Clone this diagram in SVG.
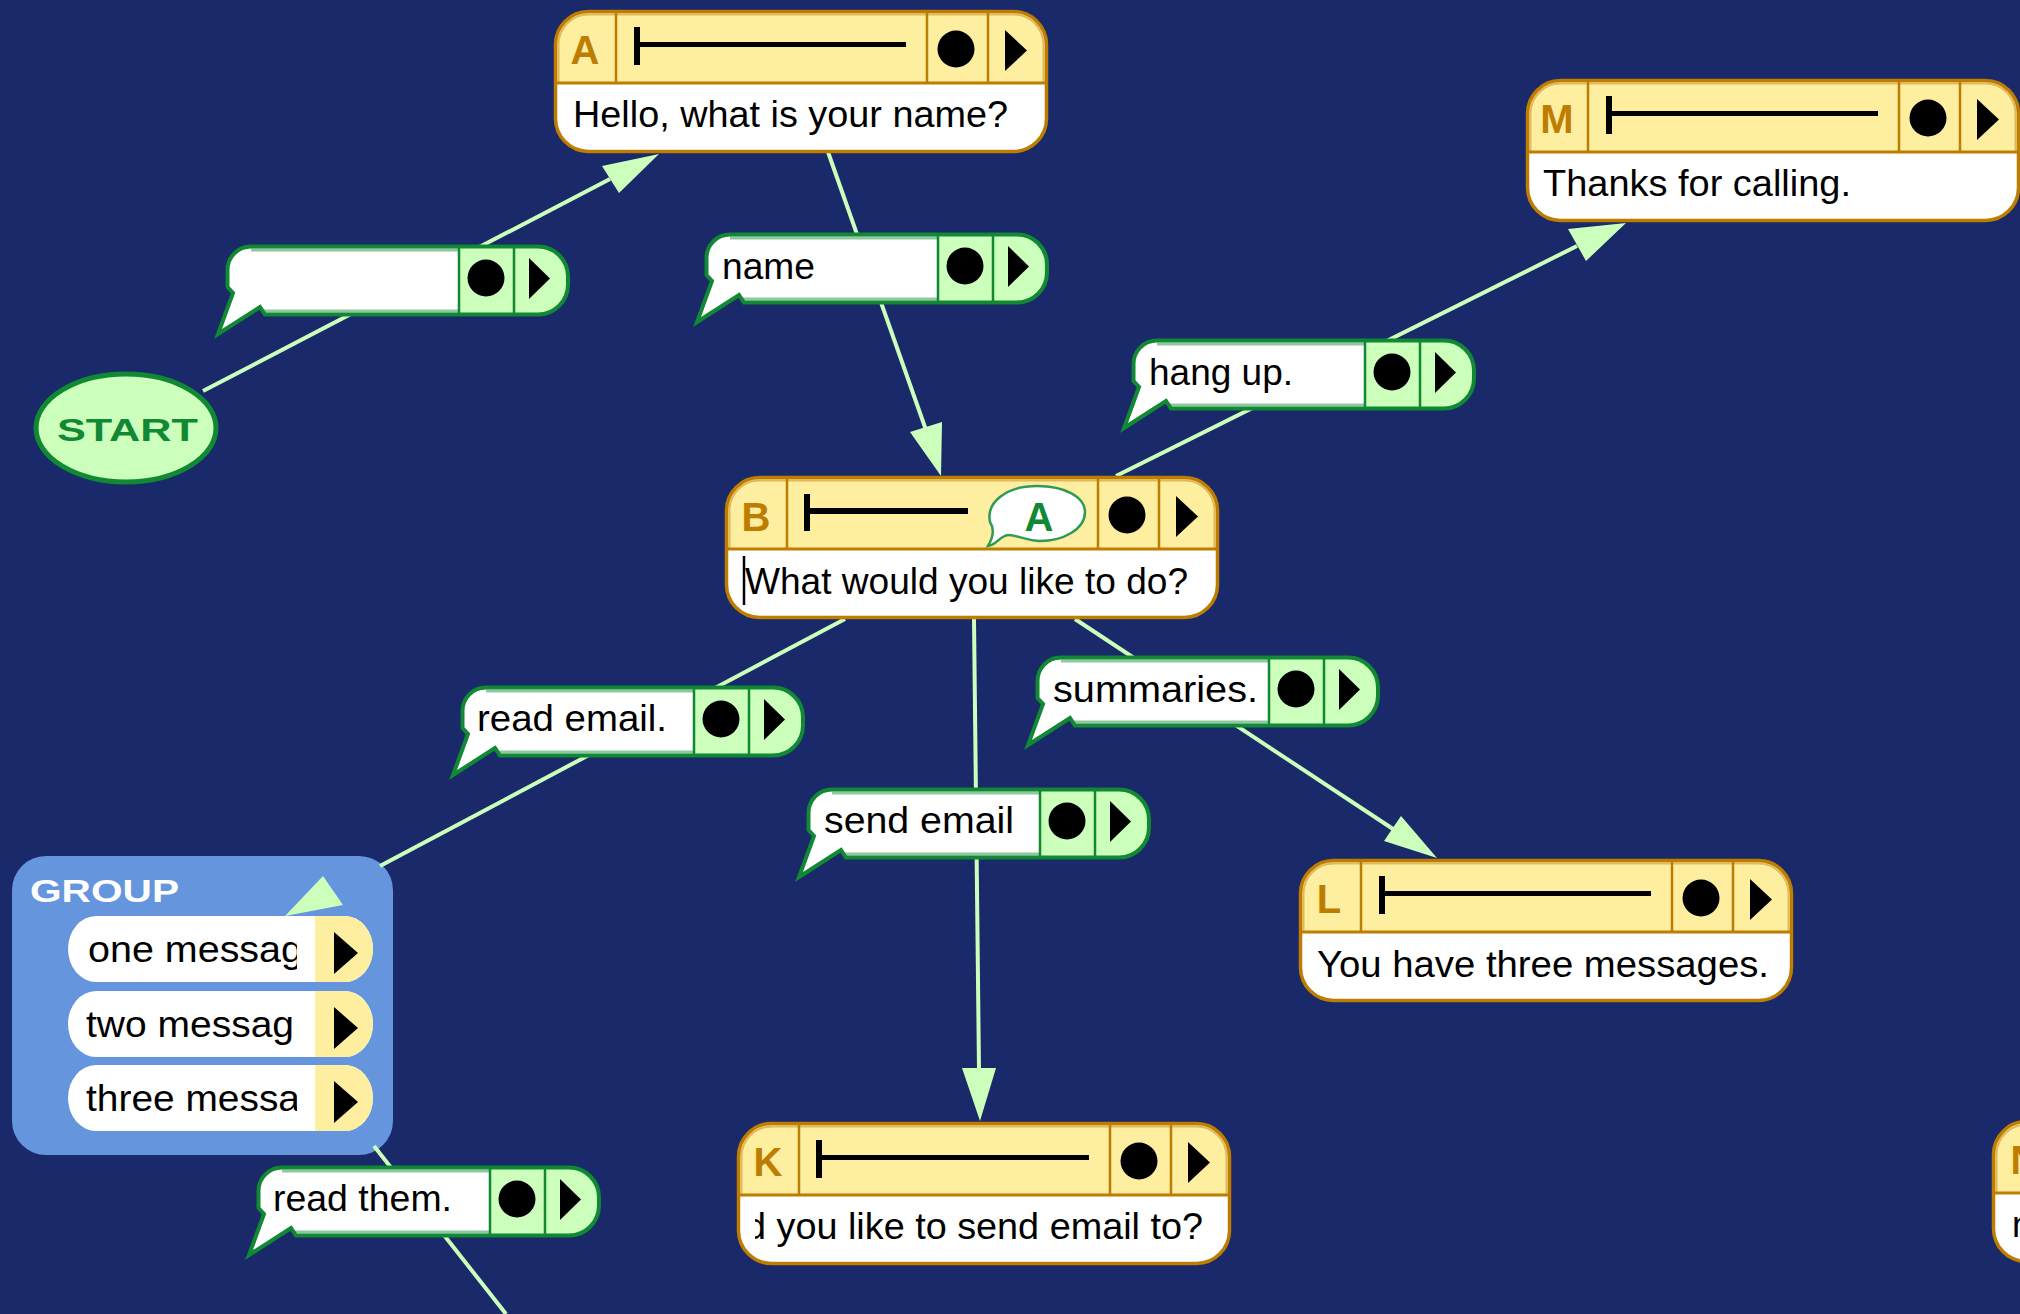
<svg xmlns="http://www.w3.org/2000/svg" xmlns:xlink="http://www.w3.org/1999/xlink" width="2020" height="1314" viewBox="0 0 2020 1314">
<style>
text{font-family:"Liberation Sans",Arial,sans-serif;fill:#000}
.t{font-size:36px}
.l{font-size:40px;font-weight:700;fill:#bd7d00;text-anchor:middle}
.e{stroke:#ccffbb;stroke-width:4;fill:none}
.h{fill:#ccffbb;stroke:none}
.k{fill:#000;stroke:none}
.br{stroke:#bd7d00;fill:none}
.gr{stroke:#118833;fill:none}
</style>
<defs>
<clipPath id="clip-rows"><rect x="68" y="900" width="229" height="240"/></clipPath>
<clipPath id="clip-k"><rect x="755" y="1195" width="460" height="60"/></clipPath>
<g id="nodeShell">
<rect x="1.5" y="1.5" width="491" height="140" rx="33" fill="#fff"/>
<path d="M1.5,73V34.5A33,33 0 0 1 34.5,1.5H459.5A33,33 0 0 1 492.5,34.5V73Z" fill="#feeea0"/>
<path d="M4.5,73V34.5A30,30 0 0 1 34.5,4.500H459.5A30,30 0 0 1 489.500,34.5V73" fill="none" stroke="#e2b85c" stroke-width="2"/>
<rect x="1.5" y="1.5" width="491" height="140" rx="33" class="br" stroke-width="3.500"/>
<path d="M1.5,73H492.5" class="br" stroke-width="3"/>
<path d="M62,2V73M373,2V73M434,2V73" class="br" stroke-width="2.5"/>
<circle cx="402" cy="39" r="18.5" class="k"/>
<path d="M451,20L473,40.5L451,61Z" class="k"/>
</g>
<g id="pillShell">
<path d="M25,1.5H312A30,30 0 0 1 342,31.500V39.500A30,30 0 0 1 312,69.500H39L34,62L-8,89L7,48L1.5,42V25A23.500,23.500 0 0 1 25,1.5Z" fill="#fff"/>
<path d="M25,5H233M38,66H233" stroke="#8fc8a0" stroke-width="3" fill="none"/>
<path d="M233,1.5H312A30,30 0 0 1 342,31.500V39.500A30,30 0 0 1 312,69.500H233Z" fill="#ccffbb"/>
<path d="M25,1.5H312A30,30 0 0 1 342,31.500V39.500A30,30 0 0 1 312,69.500H39L34,62L-8,89L7,48L1.5,42V25A23.500,23.500 0 0 1 25,1.5Z" class="gr" stroke-width="4"/>
<path d="M233,0V71M288,0V71" class="gr" stroke-width="2.5"/>
<circle cx="260" cy="33" r="18.5" class="k"/>
<path d="M303,13L324,33.5L303,54Z" class="k"/>
</g>
<g id="rowShell">
<rect x="0" y="0" width="305" height="66" rx="28" ry="33" fill="#fff"/>
<path d="M247,0H277A28,33 0 0 1 277,66H247Z" fill="#feeea0"/>
<path d="M266,16L290,37L266,58Z" class="k"/>
</g>
</defs>
<rect width="2020" height="1314" fill="#192969"/>

<g id="node-group-frame">
<rect x="12" y="856" width="381" height="299" rx="34" fill="#6495dd"/>
</g>

<g id="connectors">
<path class="e" d="M203,391L610,179"/><path class="h" d="M659,154L602,166L619,193Z"/>
<path class="e" d="M828,152L926,430"/><path class="h" d="M941,476L910,432L942,422Z"/>
<path class="e" d="M1116,476L1577,246"/><path class="h" d="M1626,223L1568,229L1586,261Z"/>
<path class="e" d="M845,619L380,866"/><path class="h" d="M285,916L323,876L343,905Z"/>
<path class="e" d="M974,619L979,1070"/><path class="h" d="M980,1121L962,1068L996,1068Z"/>
<path class="e" d="M1075,619L1393,829"/><path class="h" d="M1437,858L1384,841L1401,816Z"/>
<path class="e" d="M374,1146L506,1314"/>
</g>

<g id="node-start">
<ellipse cx="126" cy="428" rx="90" ry="54" fill="#ccffbb" stroke="#118833" stroke-width="5"/>
<text x="57" y="441" font-size="31" font-weight="700" textLength="141" lengthAdjust="spacingAndGlyphs" style="fill:#118833">START</text>
</g>

<g id="node-a">
<use xlink:href="#nodeShell" href="#nodeShell" x="554" y="10"/>
<path class="k" d="M634,27h6v15h266v5h-266v18h-6z"/>
<text class="l" x="585" y="64">A</text>
<text class="t" x="573" y="127" textLength="435" lengthAdjust="spacingAndGlyphs">Hello, what is your name?</text>
</g>

<g id="node-m">
<use xlink:href="#nodeShell" href="#nodeShell" x="1526" y="79"/>
<path class="k" d="M1606,96h6v15h266v5h-266v18h-6z"/>
<text class="l" x="1557" y="133">M</text>
<text class="t" x="1543" y="196" textLength="308" lengthAdjust="spacingAndGlyphs">Thanks for calling.</text>
</g>

<g id="node-b">
<use xlink:href="#nodeShell" href="#nodeShell" x="725" y="476"/>
<path class="k" d="M804,494h6v14h158v6h-158v17h-6z"/>
<path d="M1037,486C1065,486 1085,497 1085,512C1085,530 1062,541 1040,541C1028,541 1016,535 1009,535C1000,535 997,545 988,546C994,536 994,528 990,522C986,504 1004,486 1037,486Z" fill="#fff" stroke="#2f9a55" stroke-width="2.500"/>
<text x="1039" y="531" font-size="40" font-weight="700" text-anchor="middle" style="fill:#118833">A</text>
<text class="l" x="756" y="531">B</text>
<text class="t" x="745" y="594" textLength="443" lengthAdjust="spacingAndGlyphs">What would you like to do?</text>
<path d="M744,556V605" stroke="#000" stroke-width="2.500"/>
</g>

<g id="node-l">
<use xlink:href="#nodeShell" href="#nodeShell" x="1299" y="859"/>
<path class="k" d="M1379,876h6v15h266v5h-266v18h-6z"/>
<text class="l" x="1329" y="913">L</text>
<text class="t" x="1317" y="977" textLength="452" lengthAdjust="spacingAndGlyphs">You have three messages.</text>
</g>

<g id="node-k">
<use xlink:href="#nodeShell" href="#nodeShell" x="737" y="1122"/>
<path class="k" d="M816,1140h6v15h267v5h-267v18h-6z"/>
<text class="l" x="768" y="1176">K</text>
<text class="t" x="745" y="1239" textLength="458" lengthAdjust="spacingAndGlyphs" clip-path="url(#clip-k)">d you like to send email to?</text>
</g>

<g id="node-n">
<use xlink:href="#nodeShell" href="#nodeShell" x="1992" y="1120"/>
<text class="l" x="2025" y="1174">N</text>
<text class="t" x="2012" y="1237">n</text>
</g>

<g id="node-group-items">
<text x="30" y="902" font-size="32" font-weight="700" textLength="149" lengthAdjust="spacingAndGlyphs" style="fill:#fff">GROUP</text>
<use xlink:href="#rowShell" href="#rowShell" x="68" y="916"/>
<use xlink:href="#rowShell" href="#rowShell" x="68" y="991"/>
<use xlink:href="#rowShell" href="#rowShell" x="68" y="1065"/>
<g clip-path="url(#clip-rows)">
<text class="t" x="88" y="962" textLength="215" lengthAdjust="spacingAndGlyphs">one messag</text>
<text class="t" x="86" y="1037" textLength="208" lengthAdjust="spacingAndGlyphs">two messag</text>
<text class="t" x="86" y="1111" textLength="214" lengthAdjust="spacingAndGlyphs">three messa</text>
</g>
</g>

<g id="edge-start">
<use xlink:href="#pillShell" href="#pillShell" x="226" y="245"/>
</g>
<g id="edge-name">
<use xlink:href="#pillShell" href="#pillShell" x="705" y="233"/>
<text class="t" x="722" y="279" textLength="93" lengthAdjust="spacingAndGlyphs">name</text>
</g>
<g id="edge-hang-up">
<use xlink:href="#pillShell" href="#pillShell" x="1132" y="339"/>
<text class="t" x="1149" y="385" textLength="144" lengthAdjust="spacingAndGlyphs">hang up.</text>
</g>
<g id="edge-read-email">
<use xlink:href="#pillShell" href="#pillShell" x="461" y="686"/>
<text class="t" x="477" y="731" textLength="190" lengthAdjust="spacingAndGlyphs">read email.</text>
</g>
<g id="edge-send-email">
<use xlink:href="#pillShell" href="#pillShell" x="807" y="788"/>
<text class="t" x="824" y="833" textLength="190" lengthAdjust="spacingAndGlyphs">send email</text>
</g>
<g id="edge-summaries">
<use xlink:href="#pillShell" href="#pillShell" x="1036" y="656"/>
<text class="t" x="1053" y="702" textLength="205" lengthAdjust="spacingAndGlyphs">summaries.</text>
</g>
<g id="edge-read-them">
<use xlink:href="#pillShell" href="#pillShell" x="257" y="1166"/>
<text class="t" x="273" y="1211" textLength="179" lengthAdjust="spacingAndGlyphs">read them.</text>
</g>
</svg>
